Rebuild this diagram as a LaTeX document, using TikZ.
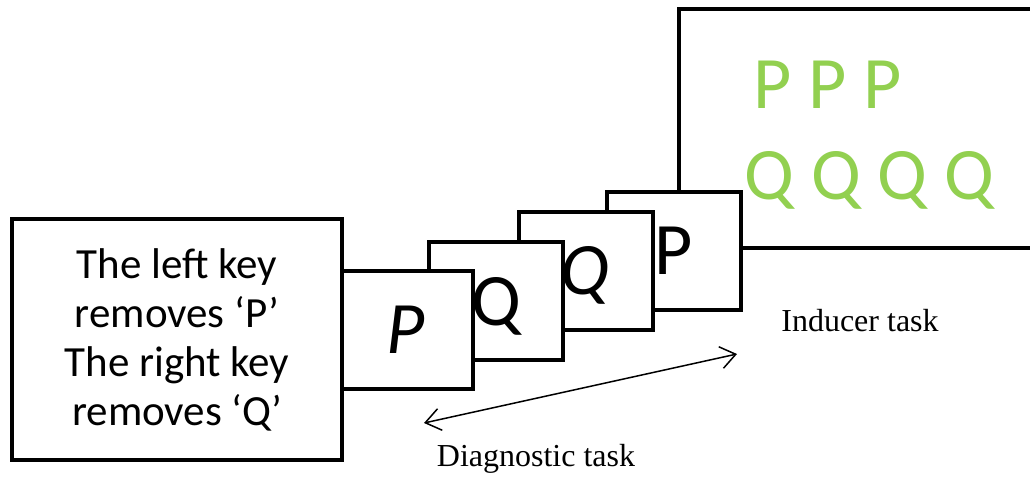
\documentclass[tikz,border=0pt]{standalone}
\usepackage{fontspec}
\setmainfont{Carlito}
\newfontfamily\timesfont{Liberation Serif}
\usepackage{xcolor}
\usepackage{tikz}
\usetikzlibrary{arrows.meta}
\definecolor{lettergreen}{HTML}{92D050}

\begin{document}
\begin{tikzpicture}[x=1pt,y=-1pt,>={Straight Barb[length=15pt,width=22pt]},
		box/.style={draw,fill=white,line width=4pt,inner sep=0pt},
		card/.style={box,minimum width=134pt,minimum height=118pt,text depth=0pt,font=\fontsize{74}{80}\selectfont},
		label/.style={anchor=base,font=\timesfont\fontsize{32}{36}\selectfont}]
			\useasboundingbox (0,0) rectangle (1030,479);
			% inducer screen, its right side runs off the page
			\node[box,minimum width=400pt,minimum height=239pt] (ind) at (879,128.5) {};
			\node[anchor=base,text=lettergreen,font=\fontsize{74}{80}\selectfont] (ppp) at (827.5,108) {P P P};
			\node[anchor=base,text=lettergreen,font=\fontsize{74}{80}\selectfont] (qqqq) at (869.5,199) {Q Q Q Q};
			% diagnostic cards, back to front
			\node[card] (c4) at (674,250.5) {P};
			\node[card] (c3) at (585.5,270.5) {\itshape Q};
			\node[card] (c2) at (496,301) {Q};
			\node[card] (c1) at (406,329.5) {\itshape P};
			\node[box,minimum width=330pt,minimum height=241pt,align=center,
				font=\fontsize{43}{49}\selectfont] (instr) at (177,339.5)
				{The left key\\removes ‘P’\\The right key\\removes ‘Q’};
	
			\coordinate (dl) at (424,423);
			\coordinate (dr) at (737,354);
			\draw[<->,line width=1.5pt] (dl) -- (dr);
			\node[label] (indlab) at (860,331) {Inducer task};
			\node[label] (diaglab) at (536,466) {Diagnostic task};
			\end{tikzpicture}
\end{document}
